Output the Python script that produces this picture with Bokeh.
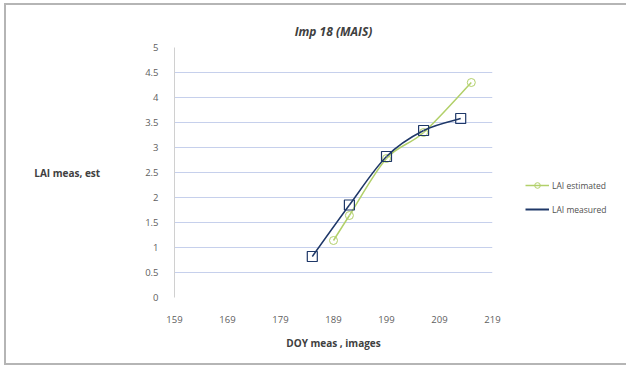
import numpy as np
from bokeh.plotting import figure
from bokeh.models import Legend, LegendItem, FixedTicker, Range1d
from bokeh.embed import file_html
from bokeh.resources import INLINE

# ---- data ----
title_text = "Imp 18 (MAIS)"
x_label = "DOY meas , images"
y_label = "LAI meas, est"
x_ticks = [159, 169, 179, 189, 199, 209, 219]
y_ticks = [0, 0.5, 1, 1.5, 2, 2.5, 3, 3.5, 4, 4.5, 5]
y_tick_labels = ["0", "0.5", "1", "1.5", "2", "2.5", "3", "3.5", "4", "4.5", "5"]
doy_measured = [185, 192, 199, 206, 213]
lai_measured = [0.82, 1.85, 2.82, 3.34, 3.58]
doy_estimated = [189, 192, 199, 206, 215]
lai_estimated = [1.14, 1.64, 2.78, 3.30, 4.30]

GREEN = "#b2d06a"
BLUE = "#1f3868"
FONT = "Open Sans"

p = figure(frame_width=318, frame_height=250, output_backend="svg", toolbar_location=None,
           x_range=Range1d(159, 219), y_range=Range1d(0, 5),
           min_border_left=168, min_border_right=134, min_border_top=42, min_border_bottom=66)
p.outline_line_color = None
p.background_fill_color = "white"
p.border_fill_color = "white"
p.styles = {"margin-left": "4px", "margin-top": "3px",
            "border-left": "2px solid #b5b5b5", "border-top": "2px solid #b5b5b5",
            "border-bottom": "2px solid #b5b5b5"}

p.title.text = title_text
p.title.align = "center"
p.title.text_font = FONT
p.title.text_font_size = "12px"
p.title.text_font_style = "bold italic"
p.title.text_color = "#404040"
p.title.offset = 20
p.title.standoff = 15

# axes
p.xaxis.ticker = FixedTicker(ticks=x_ticks)
p.yaxis.ticker = FixedTicker(ticks=y_ticks)
p.yaxis.major_label_overrides = {t: l for t, l in zip(y_ticks, y_tick_labels)}
for ax in (p.xaxis[0], p.yaxis[0]):
    ax.major_tick_line_color = None
    ax.minor_tick_line_color = None
    ax.major_label_text_font = FONT
    ax.major_label_text_font_size = "9.5px"
    ax.major_label_text_color = "#606060"
    ax.axis_label_text_font = FONT
    ax.axis_label_text_font_size = "10px"
    ax.axis_label_text_font_style = "bold"
    ax.axis_label_text_color = "#404040"
p.xaxis.axis_line_color = None
p.xaxis.major_label_standoff = 12
p.xaxis.axis_label = x_label
p.xaxis.axis_label_standoff = 10
p.yaxis.axis_line_color = "#d0d0d0"
p.yaxis.major_label_standoff = 10
p.yaxis.axis_label = y_label
p.yaxis.axis_label_orientation = "horizontal"
p.yaxis.axis_label_standoff = 42

p.xgrid.grid_line_color = None
p.ygrid.ticker = FixedTicker(ticks=[0.5, 1, 1.5, 2, 2.5, 3, 3.5, 4, 4.5])
p.ygrid.grid_line_color = "#c6d0ec"
p.ygrid.grid_line_width = 1


def smooth(xs, ys):
    x = np.asarray(xs, float)
    y = np.asarray(ys, float)
    px = np.concatenate([[x[0]], x, [x[-1]]])
    py = np.concatenate([[y[0]], y, [y[-1]]])
    n = len(x)
    x0, y0, x1, y1, cx0, cy0, cx1, cy1 = [], [], [], [], [], [], [], []
    for i in range(1, n):
        x0.append(px[i]); y0.append(py[i])
        x1.append(px[i + 1]); y1.append(py[i + 1])
        cx0.append(px[i] + (px[i + 1] - px[i - 1]) / 6)
        cy0.append(py[i] + (py[i + 1] - py[i - 1]) / 6)
        cx1.append(px[i + 1] - (px[i + 2] - px[i]) / 6)
        cy1.append(py[i + 1] - (py[i + 2] - py[i]) / 6)
    return dict(x0=x0, y0=y0, x1=x1, y1=y1, cx0=cx0, cy0=cy0, cx1=cx1, cy1=cy1)

sm = smooth(doy_measured, lai_measured)
se = smooth(doy_estimated, lai_estimated)

p.bezier(line_color=GREEN, line_width=1.5, **se)
p.scatter(doy_estimated, lai_estimated, marker="circle", size=8,
          fill_color=None, line_color=GREEN, line_width=1)
p.bezier(line_color=BLUE, line_width=1.5, **sm)
p.scatter(doy_measured, lai_measured, marker="square", size=10,
          fill_color=None, line_color=BLUE, line_width=1.2)

# legend proxies (kept outside the visible range)
lg = p.line([0, 1], [-10, -10], line_color=GREEN, line_width=1.5)
lgm = p.scatter([0], [-10], marker="circle", size=5, fill_color=None, line_color=GREEN)
lb = p.line([0, 1], [-10, -10], line_color=BLUE, line_width=2)
legend = Legend(items=[LegendItem(label="LAI estimated", renderers=[lg, lgm]),
                       LegendItem(label="LAI measured", renderers=[lb])],
                location=(33, 81), orientation="vertical",
                border_line_color=None, background_fill_alpha=0,
                label_text_font=FONT, label_text_font_size="8.5px", label_text_color="#505050",
                glyph_width=24, glyph_height=14, label_height=14, spacing=10,
                label_standoff=3, padding=0, margin=0)
p.add_layout(legend, "right")

open("out.html", "w").write(file_html(p, INLINE))
